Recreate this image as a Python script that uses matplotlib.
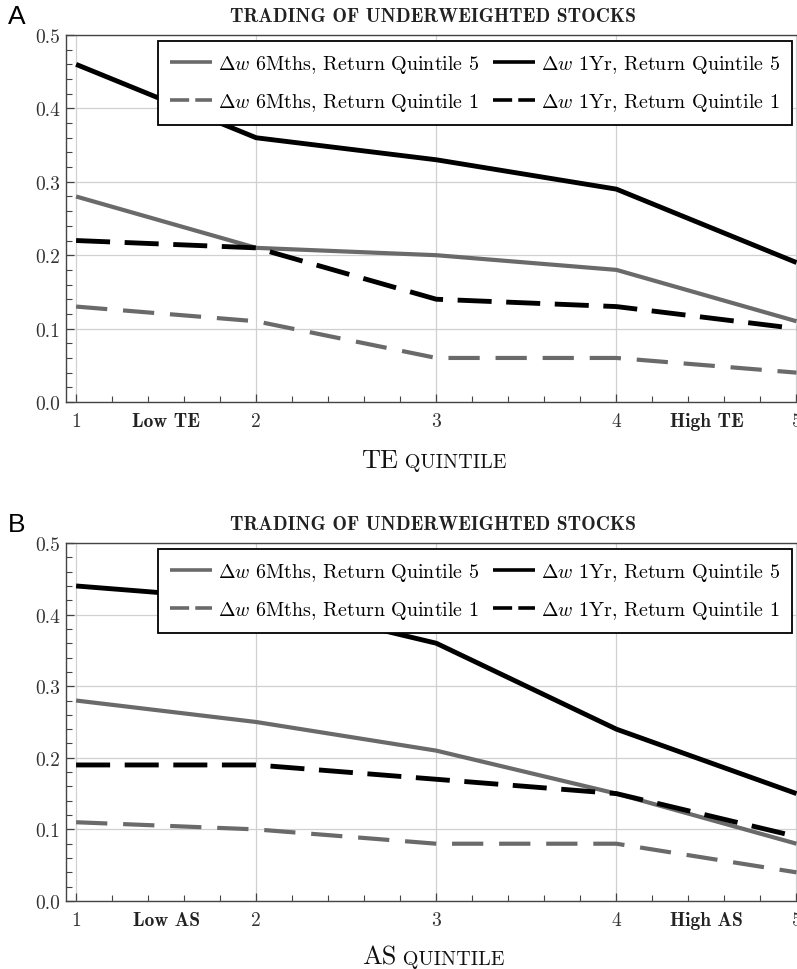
import numpy as np
import matplotlib
matplotlib.use("Agg")
from matplotlib import pyplot as plt
from matplotlib.ticker import MultipleLocator

plt.rcParams['font.family'] = ['cmr10', 'DejaVu Serif']
plt.rcParams['mathtext.fontset'] = 'cm'
plt.rcParams['axes.formatter.use_mathtext'] = True

quintiles = [1, 2, 3, 4, 5]
yticks = [0.0, 0.1, 0.2, 0.3, 0.4, 0.5]
ytick_labels = ["0.0", "0.1", "0.2", "0.3", "0.4", "0.5"]

# panel A: TE quintiles
te_6m_q5 = [0.28, 0.21, 0.20, 0.18, 0.11]
te_6m_q1 = [0.13, 0.11, 0.06, 0.06, 0.04]
te_1y_q5 = [0.46, 0.36, 0.33, 0.29, 0.19]
te_1y_q1 = [0.22, 0.21, 0.14, 0.13, 0.10]

# panel B: AS quintiles
as_6m_q5 = [0.28, 0.25, 0.21, 0.15, 0.08]
as_6m_q1 = [0.11, 0.10, 0.08, 0.08, 0.04]
as_1y_q5 = [0.44, 0.42, 0.36, 0.24, 0.15]
as_1y_q1 = [0.19, 0.19, 0.17, 0.15, 0.09]

labels = [r"$\Delta w$ 6Mths, Return Quintile 5",
          r"$\Delta w$ 6Mths, Return Quintile 1",
          r"$\Delta w$ 1Yr, Return Quintile 5",
          r"$\Delta w$ 1Yr, Return Quintile 1"]

GRAY = '#6a6a6a'
W, H = 797, 970
PAD = 7

fig = plt.figure(figsize=(W / 100, H / 100), dpi=100)


def panel(top, bottom, letter, name, s6q5, s6q1, s1q5, s1q1):
    ax = fig.add_axes([66 / W, 1 - bottom / H, (801 - 66) / W, (bottom - top) / H])
    ax.plot(quintiles, s6q5, color=GRAY, lw=3.0, label=labels[0], solid_capstyle='butt')
    ax.plot(quintiles, s6q1, color=GRAY, lw=3.0, label=labels[1], dashes=(7.5, 3.8))
    ax.plot(quintiles, s1q5, color='black', lw=3.5, label=labels[2], solid_capstyle='butt')
    ax.plot(quintiles, s1q1, color='black', lw=3.5, label=labels[3], dashes=(7, 3))

    ax.set_xlim(0.944, 5.025)
    ax.set_ylim(0, 0.5)
    ax.set_xticks(quintiles)
    ax.set_xticklabels([str(q) for q in quintiles])
    ax.set_yticks(yticks)
    ax.set_yticklabels(ytick_labels)
    ax.xaxis.set_minor_locator(MultipleLocator(0.2))
    ax.yaxis.set_minor_locator(MultipleLocator(0.02))
    ax.tick_params(which='both', direction='in', top=False, right=False,
                   labelsize=14, color='#444444', labelcolor='#333333')
    ax.tick_params(which='major', length=6, width=0.9, pad=PAD)
    ax.tick_params(axis='y', which='major', pad=4)
    ax.tick_params(which='minor', length=4, width=0.8)
    ax.grid(True, which='major', color='#d0d0d0', lw=0.9)
    ax.set_axisbelow(True)
    for s in ax.spines.values():
        s.set_color('#444444')
        s.set_linewidth(1.0)

    # bold Low / High tags on the tick label row
    xt = ax.get_xaxis_transform()
    for xpos, word in [(1.5, "Low "), (4.5, "High ")]:
        ax.annotate(word + name, xy=(xpos, 0), xycoords=xt, xytext=(0, -PAD),
                    textcoords='offset points', ha='center', va='top',
                    fontsize=14, family='cmb10', color='#222222')

    ax.set_title("TRADING OF UNDERWEIGHTED STOCKS", fontsize=14, pad=10,
                 family='cmb10', color='#222222')

    leg = ax.legend(ncol=2, loc='upper right', bbox_to_anchor=(0.9875, 0.984),
                    borderaxespad=0, fontsize=14.4, frameon=True, fancybox=False,
                    edgecolor='black', framealpha=1, handlelength=2.1,
                    handletextpad=0.3, columnspacing=0.65, borderpad=0.6,
                    labelspacing=0.8)
    leg.get_frame().set_linewidth(1.3)
    for h in leg.get_lines():
        h.set_linewidth(2.6)
        if h.get_linestyle() != '-':
            h.set_dashes((5.3, 1.7))

    fig.text(8 / W, 1 - (top - 19) / H, letter, family='Liberation Sans',
             fontsize=19, va='center', ha='left')

    t1 = ax.text(0.5, 0, name, transform=ax.transAxes, fontsize=19,
                 ha='right', va='baseline', color='#111111')
    t2 = ax.text(0.5, 0, " QUINTILE", transform=ax.transAxes, fontsize=14.5,
                 ha='left', va='baseline', color='#111111')
    return ax, t1, t2


axA, a1, a2 = panel(36, 403, "A", "TE", te_6m_q5, te_6m_q1, te_1y_q5, te_1y_q1)
axB, b1, b2 = panel(544, 902, "B", "AS", as_6m_q5, as_6m_q1, as_1y_q5, as_1y_q1)

# center the two-size axis labels under each axes
fig.canvas.draw()
r = fig.canvas.get_renderer()
for ax, t1, t2, base in [(axA, a1, a2, 468), (axB, b1, b2, 965)]:
    w1 = t1.get_window_extent(r).width
    w2 = t2.get_window_extent(r).width
    cx = (66 + 801) / 2 - (w1 + w2) / 2 + w1
    inv = ax.transAxes.inverted()
    x_ax, y_ax = inv.transform((cx, H - base))
    t1.set_position((x_ax, y_ax))
    t2.set_position((x_ax, y_ax))

fig.savefig("out.png", dpi=100)
